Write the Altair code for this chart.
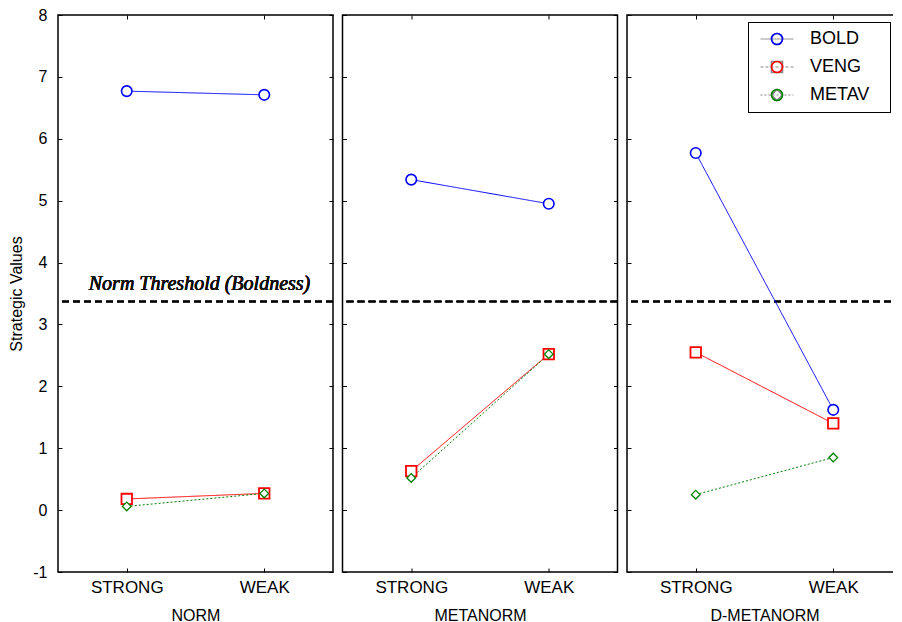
import altair as alt
import pandas as pd

# ---------------- data ----------------
PANELS = ["NORM", "METANORM", "D-METANORM"]
CONDS = ["STRONG", "WEAK"]
SERIES = ["BOLD", "VENG", "METAV"]

# values per panel: [STRONG, WEAK]
BOLD = [[6.77, 6.71], [5.34, 4.95], [5.77, 1.62]]
VENG = [[0.18, 0.27], [0.63, 2.52], [2.55, 1.40]]
METAV = [[0.06, 0.27], [0.52, 2.52], [0.25, 0.85]]
THRESHOLD = 3.37
THRESHOLD_LABEL = "Norm Threshold (Boldness)"
Y_TITLE = "Strategic Values"

Y_TICKS = [i / 4 for i in range(-4, 33)]  # axis tick positions (every 0.25)

# ---------------- styles ----------------
COLORS = ["#0000ff", "#ff0000", "#008000"]
PLOT_DASH = [[1, 0], [1, 0], [2, 2]]
LEG_DASH = [[1, 0], [3, 2], [2, 2]]
SHAPES = ["circle", "square", "diamond"]
LINE_PATH = "M-3,0L3,0"
SIZES = [110, 110, 75]
SW = [1.6, 1.8, 1.3]
FONT = "Liberation Sans"

W, H = 275, 557

rows = []
for p_i, p in enumerate(PANELS):
    for s, vals in zip(SERIES, [BOLD, VENG, METAV]):
        for c_i, c in enumerate(CONDS):
            rows.append({"panel": p, "cond": c, "series": s, "value": vals[p_i][c_i],
                         "lgA": s, "lgB": s})
df = pd.DataFrame(rows)

yscale = alt.Scale(domain=[-1, 8], nice=False, zero=False)
xscale = alt.Scale(type="point", padding=0.5)

LEG_X = 2 * (W + 10) + 120
LEG_Y = 7
LEG_COMMON = dict(orient="none", legendX=LEG_X, legendY=LEG_Y,
                  labelFontSize=18, labelFont=FONT, symbolSize=121, symbolOpacity=1,
                  padding=8, rowPadding=10, symbolOffset=12, labelOffset=24)


def make_panel(i):
    d = df[df.panel == PANELS[i]]
    base = alt.Chart(d)
    xenc = alt.X("cond:N", sort=CONDS, scale=xscale,
                 axis=alt.Axis(title=PANELS[i], labelAngle=0, labelFontSize=17,
                               titleFontSize=16, titleFontWeight="normal",
                               labelPadding=7, titlePadding=12, ticks=False,
                               domain=False, grid=True, gridDash=[4, H - 8],
                               gridColor="black", gridWidth=1, gridOpacity=1))
    yax = dict(values=Y_TICKS, grid=True, gridDash=[4, W - 8], gridColor="black",
               gridWidth=1, gridOpacity=1, ticks=False, domain=False)
    if i == 0:
        yax.update(labels=True, labelFontSize=16, labelPadding=11,
                   labelExpr="datum.value % 1 == 0 ? '' + datum.value : ''",
                   title=Y_TITLE, titleFontSize=16, titleFontWeight="normal",
                   titlePadding=8)
    else:
        yax.update(labels=False, title=None)
    yenc = alt.Y("value:Q", scale=yscale, axis=alt.Axis(**yax))

    layers = []
    layers.append(base.mark_rule(color="black", strokeDash=[7, 4], strokeWidth=1.6)
                  .encode(y=alt.datum(THRESHOLD)))
    if i == 0:
        layers.append(base.mark_text(font="Liberation Serif", fontStyle="italic",
                                     fontWeight=300, fontSize=20, color="#111111",
                                     dy=-18)
                      .encode(y=alt.datum(THRESHOLD), x=alt.value(W / 2 + 4),
                              text=alt.value(THRESHOLD_LABEL)))
    for k, s in enumerate(SERIES):
        layers.append(base.transform_filter(alt.datum.series == s)
                      .mark_line(color=COLORS[k], strokeDash=PLOT_DASH[k], strokeWidth=1)
                      .encode(x=xenc, y=yenc))
    for k, s in enumerate(SERIES):
        layers.append(base.transform_filter(alt.datum.series == s)
                      .mark_point(shape=SHAPES[k], color=COLORS[k], fill="white",
                                  fillOpacity=1, opacity=1, filled=False,
                                  size=SIZES[k], strokeWidth=SW[k])
                      .encode(x=xenc, y=yenc))
    if i == 2:
        legA = alt.Legend(symbolType=LINE_PATH, symbolStrokeWidth=1,
                          labelColor="black", strokeColor="black", fillColor="white",
                          title=".", titleOrient="right", titleOpacity=0,
                          titleFontSize=10, titlePadding=10, **LEG_COMMON)
        legB = alt.Legend(symbolStrokeWidth=1.6, symbolFillColor="white",
                          labelOpacity=0, title=None, **LEG_COMMON)
        layers.append(base.mark_line(opacity=0).encode(
            x=xenc, y=yenc,
            color=alt.Color("lgA:N", sort=SERIES, scale=alt.Scale(range=COLORS), legend=legA),
            strokeDash=alt.StrokeDash("lgA:N", sort=SERIES, scale=alt.Scale(range=LEG_DASH), legend=legA)))
        layers.append(base.mark_point(opacity=0).encode(
            x=xenc, y=yenc,
            stroke=alt.Stroke("lgB:N", sort=SERIES, scale=alt.Scale(range=COLORS), legend=legB),
            shape=alt.Shape("lgB:N", sort=SERIES, scale=alt.Scale(range=SHAPES), legend=legB)))
    return alt.layer(*layers).properties(width=W, height=H)


chart = (alt.hconcat(*[make_panel(i) for i in range(3)], spacing=5.5)
         .properties(padding={"left": 0, "top": -2, "right": -11, "bottom": 0})
         .configure_view(stroke="black", strokeWidth=1.5)
         .configure_axis(labelFont=FONT, titleFont=FONT, labelColor="black",
                         titleColor="black"))

chart.save("out.html", embed_options={"renderer": "svg", "actions": False})
